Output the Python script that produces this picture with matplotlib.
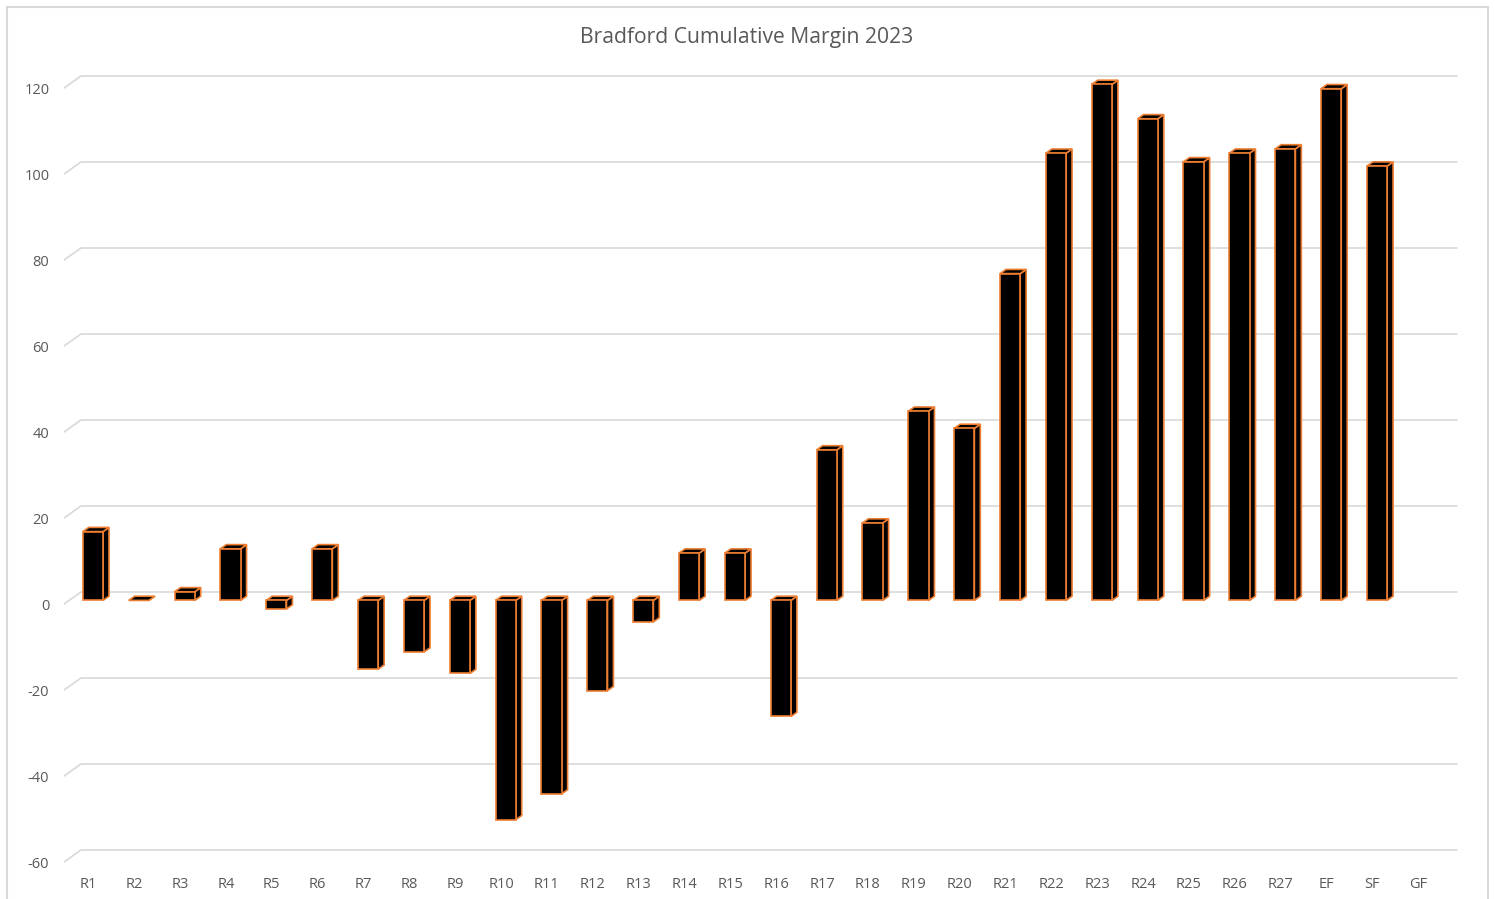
import matplotlib.pyplot as plt
from matplotlib.patches import Polygon, Rectangle

# data
rounds = ['R1', 'R2', 'R3', 'R4', 'R5', 'R6', 'R7', 'R8', 'R9', 'R10',
          'R11', 'R12', 'R13', 'R14', 'R15', 'R16', 'R17', 'R18', 'R19', 'R20',
          'R21', 'R22', 'R23', 'R24', 'R25', 'R26', 'R27', 'EF', 'SF', 'GF']
margin = [16, 0, 2, 12, -2, 12, -16, -12, -17, -51,
          -45, -21, -5, 11, 11, -27, 35, 18, 44, 40,
          76, 104, 120, 112, 102, 104, 105, 119, 101, None]
yticks = [-60, -40, -20, 0, 20, 40, 60, 80, 100, 120]

plt.rcParams['font.family'] = ['Open Sans', 'DejaVu Sans']
txt = '#595959'
grid = '#d9d9d9'
edge = '#ED7D31'

W, H = 1495, 899
fig = plt.figure(figsize=(W / 100, H / 100), dpi=100)

# pixel geometry of the plot
px_cat = 45.86          # pixels per category
px_val = 4.3            # pixels per unit
x0_px = 64              # left front edge (x = -0.5)
y0_px = 604             # front zero line
xlim = (-0.5, 30.0)
ylim = (-62, 125)
left = x0_px / W
width = (xlim[1] - xlim[0]) * px_cat / W
top_px = y0_px - ylim[1] * px_val
bot_px = y0_px - ylim[0] * px_val
ax = fig.add_axes([left, (H - bot_px) / H, width, (bot_px - top_px) / H])
ax.set_xlim(*xlim)
ax.set_ylim(*ylim)
ax.axis('off')

# 3d depth offsets in data units
Dx = 17 / px_cat
Dy = 12 / px_val
f0 = 0.3      # front face depth
fd = 0.35     # bar depth
bw = 0.44     # bar width
n = len(rounds)

# back wall gridlines
for v in yticks:
    ax.plot([-0.5, -0.5 + Dx, n - 0.5 + Dx], [v, v + Dy, v + Dy],
            color=grid, lw=1.2, zorder=1)
    ax.text(-0.82, v - 0.5, str(v), ha='right', va='center', fontsize=10.5, color=txt)

for i, lab in enumerate(rounds):
    ax.text(i + 0.03, ylim[0] - 3.3, lab, ha='center', va='center', fontsize=10.5, color=txt)

# bars
for i, v in enumerate(margin):
    if v is None:
        continue
    xl = i - bw / 2 + f0 * Dx + 0.02
    xr = xl + bw
    yb = f0 * Dy
    ddx, ddy = fd * Dx, fd * Dy
    ytop = max(v, 0) + yb
    ybot = min(v, 0) + yb
    side = Polygon([(xr, ybot), (xr + ddx, ybot + ddy), (xr + ddx, ytop + ddy), (xr, ytop)],
                   closed=True, facecolor='black', edgecolor=edge, lw=1.2, zorder=3)
    topf = Polygon([(xl, ytop), (xl + ddx, ytop + ddy), (xr + ddx, ytop + ddy), (xr, ytop)],
                   closed=True, facecolor='black', edgecolor=edge, lw=1.2, zorder=3)
    ax.add_patch(side)
    ax.add_patch(topf)
    if v != 0:
        ax.add_patch(Rectangle((xl, ybot), bw, ytop - ybot, facecolor='black',
                               edgecolor=edge, lw=1.2, zorder=4))

fig.text(747 / W, 1 - 37 / H, 'Bradford Cumulative Margin 2023', ha='center', va='center',
         fontsize=15.2, color=txt)

# chart border
fig.patches.append(Rectangle((7 / W, -0.05), (1488 - 7) / W, 1.05 - 7 / H,
                             transform=fig.transFigure, fill=False,
                             edgecolor='#d9d9d9', lw=1.5))

plt.savefig('out.png', dpi=100)
